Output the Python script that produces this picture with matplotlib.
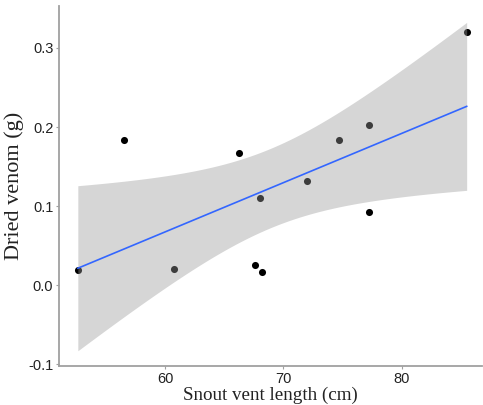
import numpy as np
import matplotlib.pyplot as plt

# snout vent length (cm) and dried venom (g)
svl = [52.6, 56.5, 60.7, 66.2, 67.6, 68.0, 68.2, 72.0, 74.7, 77.2, 77.2, 85.5]
venom = [0.019, 0.183, 0.021, 0.167, 0.025, 0.110, 0.016, 0.132, 0.183, 0.203, 0.092, 0.320]

x = np.array(svl)
y = np.array(venom)
n = len(x)

# linear fit with 95% confidence band
b1, b0 = np.polyfit(x, y, 1)
resid = y - (b0 + b1 * x)
s = np.sqrt(np.sum(resid**2) / (n - 2))
t_crit = 2.228  # t(0.975, df=10)
xs = np.linspace(x.min(), x.max(), 80)
ys = b0 + b1 * xs
se = s * np.sqrt(1 / n + (xs - x.mean())**2 / np.sum((x - x.mean())**2))

fig = plt.figure(figsize=(4.83, 4.05), dpi=100)
ax = fig.add_axes([0.122, 0.096, 0.876, 0.889])

ax.scatter(x, y, s=26, color='black', zorder=2, linewidths=0)
ax.fill_between(xs, ys - t_crit * se, ys + t_crit * se, color='#999999', alpha=0.4,
                linewidth=0, zorder=3)
ax.plot(xs, ys, color='#3366FF', lw=1.2, zorder=4)

ax.set_xlim(51.0, 86.8)
ax.set_ylim(-0.1025, 0.353)
ax.set_xticks([60, 70, 80])
ax.set_yticks([-0.1, 0.0, 0.1, 0.2, 0.3])
ax.set_yticklabels(['-0.1', '0.0', '0.1', '0.2', '0.3'])

for side in ['top', 'right']:
    ax.spines[side].set_visible(False)
for side in ['left', 'bottom']:
    ax.spines[side].set_color('#a0a0a0')
    ax.spines[side].set_linewidth(1.3)

ax.tick_params(length=2, width=0.8, color='#a0a0a0', pad=2,
               labelsize=10.5, labelcolor='#222222',
               labelfontfamily='Liberation Sans')

ax.set_xlabel('Snout vent length (cm)', family='Liberation Serif', fontsize=13.7,
              color='#222222', labelpad=1)
ax.set_ylabel('Dried venom (g)', family='Liberation Serif', fontsize=16,
              color='#222222', labelpad=3)

fig.savefig('out.png')
